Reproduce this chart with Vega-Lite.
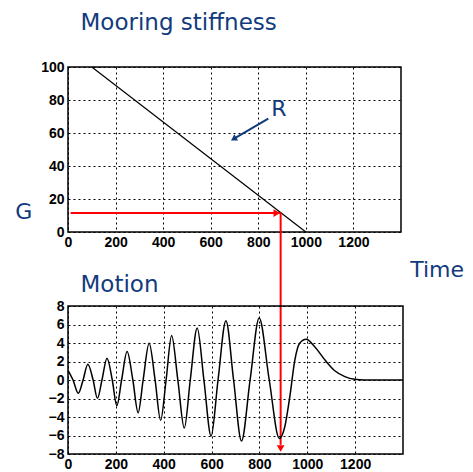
{
  "$schema": "https://vega.github.io/schema/vega-lite/v6.json",
  "padding": {"left": 14, "top": 10, "right": 5, "bottom": 5},
  "bounds": "flush",
  "spacing": 74,
  "config": {
    "view": {"stroke": "black", "strokeWidth": 1.5},
    "axis": {"grid": true, "gridColor": "black", "gridDash": [2, 3], "gridOpacity": 1, "gridWidth": 1, "domain": false, "ticks": false, "labelFont": "Liberation Sans", "labelFontWeight": "bold", "labelFontSize": 14, "labelColor": "black", "title": null, "format": "d"},
    "axisX": {"labelPadding": 3, "labelFlush": false},
    "axisY": {"labelPadding": 4},
    "title": {"font": "DejaVu Sans", "fontSize": 23, "fontWeight": "normal", "color": "#123b7d", "anchor": "start", "frame": "group", "baseline": "alphabetic"}
  },
  "datasets": {
    "stiffness": [{"x": 100, "y": 100}, {"x": 1000, "y": 0}],
    "redH": [{"x": 11, "x2": 894, "y": 11.5}],
    "redHHead": [{"x": 878, "y": 11.5}],
    "redV": [{"x": 894, "y": 11.5, "y2": -129}],
    "redVHead": [{"x": 894, "y": -131.2}],
    "blueArrow": [{"x": 842, "y": 68.7, "x2": 700, "y2": 56.7}],
    "blueHead": [{"x": 700, "y": 56.7}],
    "labelR": [{"x": 887, "y": 74.4, "label": "R"}],
    "labelG": [{"x": -186, "y": 12.2, "label": "G"}],
    "labelTime": [{"x": 1552, "y": -23.2, "label": "Time"}],
    "motion": [
      {"x": 0, "y": 1.05}, {"x": 21, "y": 0}, {"x": 43, "y": -1.44}, {"x": 63, "y": 0}, {"x": 83, "y": 1.7},
      {"x": 105, "y": 0}, {"x": 123, "y": -1.98}, {"x": 142, "y": 0}, {"x": 163, "y": 2.34}, {"x": 185, "y": 0},
      {"x": 204, "y": -2.78}, {"x": 224, "y": 0}, {"x": 247, "y": 3.08}, {"x": 271, "y": 0}, {"x": 293, "y": -3.53},
      {"x": 314, "y": 0}, {"x": 339, "y": 3.96}, {"x": 364, "y": 0}, {"x": 387, "y": -4.36}, {"x": 410, "y": 0},
      {"x": 433, "y": 4.81}, {"x": 459, "y": 0}, {"x": 486, "y": -5.19}, {"x": 511, "y": 0}, {"x": 540, "y": 5.62},
      {"x": 568, "y": 0}, {"x": 598, "y": -6.05}, {"x": 627, "y": 0}, {"x": 660, "y": 6.41}, {"x": 692, "y": 0},
      {"x": 725, "y": -6.6}, {"x": 761, "y": 0}, {"x": 799, "y": 6.7}, {"x": 841, "y": 0}, {"x": 883, "y": -6.32},
      {"x": 906, "y": -5.05}, {"x": 927, "y": -1.8}, {"x": 948, "y": 2.16}, {"x": 968, "y": 3.97}, {"x": 995, "y": 4.4},
      {"x": 1031, "y": 3.6}, {"x": 1074, "y": 2.16}, {"x": 1115, "y": 1.0}, {"x": 1157, "y": 0.36}, {"x": 1198, "y": 0.07},
      {"x": 1240, "y": 0}, {"x": 1400, "y": 0}
    ]
  },
  "vconcat": [
    {
      "width": 333,
      "height": 165,
      "title": {"text": "Mooring stiffness", "offset": 25.4, "dx": 12.5},
      "encoding": {
        "x": {"field": "x", "type": "quantitative", "scale": {"domain": [0, 1400], "nice": false, "zero": false}, "axis": {"values": [0, 200, 400, 600, 800, 1000, 1200]}},
        "y": {"field": "y", "type": "quantitative", "scale": {"domain": [0, 100], "nice": false}, "axis": {"values": [0, 20, 40, 60, 80, 100]}}
      },
      "layer": [
        {"data": {"name": "stiffness"}, "mark": {"type": "line", "color": "black", "strokeWidth": 1.2, "clip": false}},
        {"data": {"name": "redH"}, "mark": {"type": "rule", "color": "#ff0000", "strokeWidth": 2}, "encoding": {"x2": {"field": "x2"}}},
        {"data": {"name": "redHHead"}, "mark": {"type": "point", "shape": "triangle-right", "filled": true, "color": "#ff0000", "size": 60, "opacity": 1}},
        {"data": {"name": "redV"}, "mark": {"type": "rule", "color": "#ff0000", "strokeWidth": 2, "clip": false}, "encoding": {"y2": {"field": "y2"}}},
        {"data": {"name": "redVHead"}, "mark": {"type": "point", "shape": "triangle-down", "filled": true, "color": "#ff0000", "size": 60, "opacity": 1, "clip": false}},
        {"data": {"name": "blueArrow"}, "mark": {"type": "rule", "color": "#123b7d", "strokeWidth": 2}, "encoding": {"x2": {"field": "x2"}, "y2": {"field": "y2"}}},
        {"data": {"name": "blueHead"}, "mark": {"type": "point", "shape": "triangle", "filled": true, "color": "#123b7d", "size": 50, "angle": 239, "opacity": 1}},
        {"data": {"name": "labelR"}, "mark": {"type": "text", "font": "DejaVu Sans", "fontSize": 22, "color": "#123b7d", "align": "center", "baseline": "middle", "clip": false}, "encoding": {"text": {"field": "label"}}},
        {"data": {"name": "labelG"}, "mark": {"type": "text", "font": "DejaVu Sans", "fontSize": 22, "color": "#123b7d", "align": "center", "baseline": "middle", "clip": false}, "encoding": {"text": {"field": "label"}}},
        {"data": {"name": "labelTime"}, "mark": {"type": "text", "font": "DejaVu Sans", "fontSize": 22, "color": "#123b7d", "align": "center", "baseline": "middle", "clip": false}, "encoding": {"text": {"field": "label"}}}
      ]
    },
    {
      "width": 335,
      "height": 148,
      "title": {"text": "Motion", "offset": 2.4, "dx": 12.5},
      "encoding": {
        "x": {"field": "x", "type": "quantitative", "scale": {"domain": [0, 1400], "nice": false, "zero": false}, "axis": {"values": [0, 200, 400, 600, 800, 1000, 1200]}},
        "y": {"field": "y", "type": "quantitative", "scale": {"domain": [-8, 8], "nice": false}, "axis": {"values": [-8, -6, -4, -2, 0, 2, 4, 6, 8]}}
      },
      "layer": [
        {"data": {"name": "motion"}, "mark": {"type": "line", "color": "black", "strokeWidth": 1.5, "interpolate": "monotone"}}
      ]
    }
  ]
}
